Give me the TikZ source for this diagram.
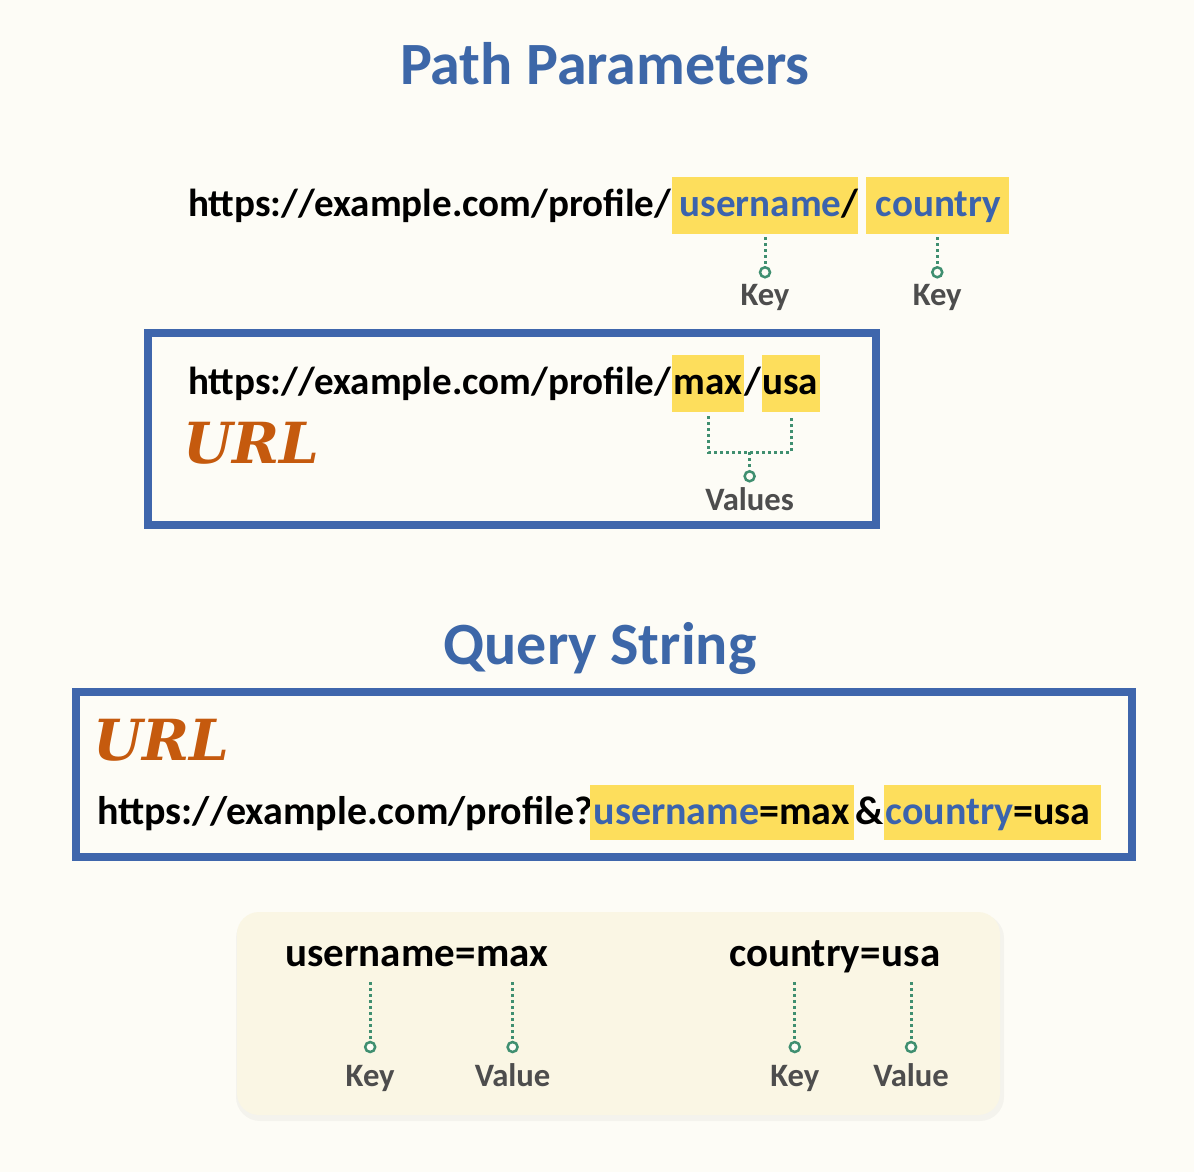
\documentclass[tikz,border=0pt]{standalone}
\usepackage{fontspec}
\setmainfont{Carlito}
\newfontfamily\urlserif{DejaVu Serif}
\usetikzlibrary{calc}
\newdimen\pxu \pxu=0.75pt
\definecolor{bgc}{HTML}{FDFCF6}
\definecolor{ttl}{HTML}{3D67A8}
\definecolor{frame}{HTML}{3F66AC}
\definecolor{hly}{HTML}{FDDE5C}
\definecolor{kblue}{HTML}{3B63AD}
\definecolor{org}{HTML}{C55A0E}
\definecolor{grn}{HTML}{3F8F70}
\definecolor{lbl}{HTML}{4D4D4D}
\definecolor{panel}{HTML}{FAF6E4}
\tikzset{
  seg/.style={inner sep=0pt, anchor=base west, font=\fontsize{29.3}{36}\selectfont\bfseries, text=black},
  hlseg/.style={seg, fill=hly, text height=39\pxu, text depth=18\pxu},
  qseg/.style={inner sep=0pt, anchor=base west, font=\fontsize{30}{36}\selectfont\bfseries, text=black},
  qhl/.style={qseg, fill=hly, inner xsep=0pt, text height=39\pxu, text depth=16\pxu},
  seg2/.style={inner sep=0pt, anchor=base west, font=\fontsize{30.75}{36}\selectfont\bfseries, text=black, text depth=10\pxu},
  ttlsty/.style={anchor=base, inner sep=0pt, font=\fontsize{45}{50}\selectfont\bfseries, text=ttl},
  urlsty/.style={anchor=base west, inner sep=0pt, font=\fontsize{42.5}{50}\selectfont\urlserif\bfseries\itshape, text=org},
  lab/.style={anchor=base, inner sep=0pt, font=\fontsize{24.5}{28}\selectfont\bfseries, text=lbl},
  ring/.style={circle, draw=grn, fill=bgc, line width=2.5\pxu, minimum size=10\pxu, inner sep=0pt},
  dotl/.style={draw=grn, line width=3\pxu, dash pattern=on 3\pxu off 3\pxu},
  framebox/.style={draw=frame, line width=8\pxu}
}
\begin{document}
\begin{tikzpicture}[x=0.75pt,y=-0.75pt]
\fill[bgc] (0,0) rectangle (1194,1172);
\useasboundingbox (0,0) rectangle (1194,1172);

% ---------- Path Parameters ----------
\node[ttlsty] (t1) at (605,84) {Path Parameters};

\node[seg] (p1) at (188,216) {https://example.com/profile/};
\node[hlseg] (p1u) at (p1.base east) {\kern8\pxu\textcolor{kblue}{username}/};
\node[hlseg] (p1c) at ([xshift=7\pxu]p1u.base east) {\kern10\pxu\textcolor{kblue}{country}\kern8\pxu};

\node[ring] (k1) at ($(p1u.south)+(0,38)$) {};
\node[ring] (k2) at ($(p1c.south)+(0,38)$) {};
\draw[dotl, shorten <=3\pxu] (p1u.south) -- (k1);
\draw[dotl, shorten <=3\pxu] (p1c.south) -- (k2);
\node[lab] (k1l) at ($(k1)+(0,33)$) {Key};
\node[lab] (k2l) at ($(k2)+(0,33)$) {Key};

\draw[framebox] (148,333) rectangle (876,525);
\node[seg] (p2) at (188,394) {https://example.com/profile/};
\node[hlseg] (p2m) at (p2.base east) {\kern2\pxu max\kern2\pxu};
\node[seg] (p2s) at (p2m.base east) {/};
\node[hlseg] (p2u) at (p2s.base east) {usa\kern2\pxu};
\node[urlsty] (url1) at (183,463) {URL};

\coordinate (brl) at ($(p2m.south)+(0,40)$);
\coordinate (brr) at (p2u.south |- brl);
\coordinate (brm) at ($(brl)!0.5!(brr)$);
\node[ring] (vr) at ($(brm)+(0,24)$) {};
\draw[dotl, shorten <=4\pxu, shorten >=4\pxu] (p2m.south) -- (brl) -- (brr) -- (p2u.south);
\draw[dotl] (brm) -- (vr);
\node[lab] (vrl) at ($(vr)+(0,34)$) {Values};

% ---------- Query String ----------
\node[ttlsty] (t2) at (600,664) {Query String};

\draw[framebox] (76,692) rectangle (1132,857);
\node[urlsty] (url2) at (93,760) {URL};
\node[qseg] (q0) at (97,824) {https://example.com/profile?};
\node[qhl] (q1) at ([xshift=-4\pxu]q0.base east) {\kern4\pxu\textcolor{kblue}{username}=max\kern5\pxu};
\node[qseg] (q2) at (q1.base east) {\&};
\node[qhl] (q3) at (q2.base east) {\kern2\pxu\textcolor{kblue}{country}=usa\kern10\pxu};

% ---------- bottom panel ----------
\fill[black, opacity=0.035, rounded corners=24\pxu] (236,914) rectangle (1004,1121);
\fill[panel, rounded corners=22\pxu] (237,912) rectangle (1000,1115);

\node[seg2] (bu) at (285,966) {username};
\node[seg2] (beq) at (bu.base east) {=};
\node[seg2] (bm) at (beq.base east) {max};
\node[seg2] (cc) at (729,966) {country};
\node[seg2] (ceq) at (cc.base east) {=};
\node[seg2] (cu) at (ceq.base east) {usa};

\node[ring] (bk1) at ($(bu.base)+(0,81)$) {};
\node[ring] (bv1) at ($(bm.base)+(0,81)$) {};
\node[ring] (bk2) at ($(cc.base)+(0,81)$) {};
\node[ring] (bv2) at ($(cu.base)+(0,81)$) {};
\draw[dotl, shorten <=6\pxu] (bu.south) -- (bk1);
\draw[dotl, shorten <=6\pxu] (bm.south) -- (bv1);
\draw[dotl, shorten <=6\pxu] (cc.south) -- (bk2);
\draw[dotl, shorten <=6\pxu] (cu.south) -- (bv2);
\node[lab] (bk1l) at ($(bk1)+(0,39)$) {Key};
\node[lab] (bv1l) at ($(bv1)+(0,39)$) {Value};
\node[lab] (bk2l) at ($(bk2)+(0,39)$) {Key};
\node[lab] (bv2l) at ($(bv2)+(0,39)$) {Value};
\end{tikzpicture}
\end{document}
